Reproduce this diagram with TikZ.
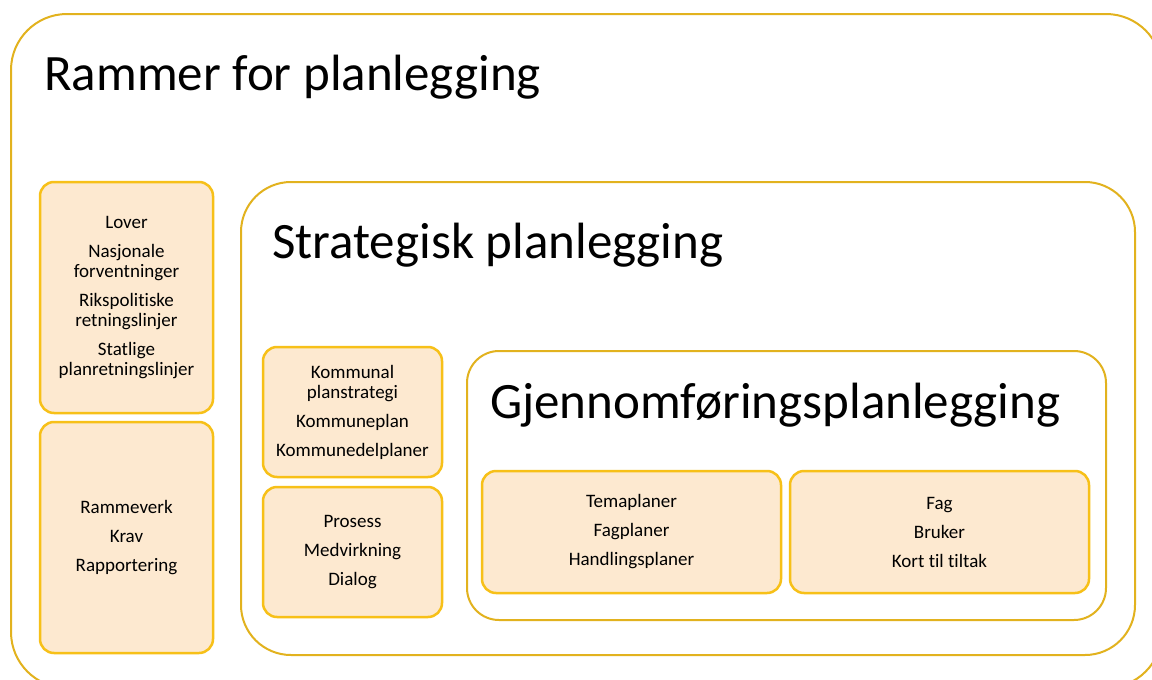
\documentclass[tikz,border=0pt]{standalone}
\usepackage{fontspec}
\setmainfont[Ligatures=NoCommon]{Carlito}

\definecolor{framegold}{RGB}{226,178,30}
\definecolor{boxline}{RGB}{247,192,24}
\definecolor{boxfill}{RGB}{253,233,208}

\tikzset{
  frame/.style={rectangle, draw=framegold, line width=2pt, fill=white},
  infobox/.style={rectangle, rounded corners=14pt, draw=boxline, line width=2.5pt, fill=boxfill,
    align=center, font=\fontsize{19}{20}\selectfont, inner sep=0pt},
  headline/.style={anchor=base west, inner sep=0pt, font=\fontsize{51}{60}\selectfont}
}

\begin{document}
\begin{tikzpicture}[x=1pt, y=-1pt]
        \useasboundingbox (0,0) rectangle (1152,680);
        \clip (0,0) rectangle (1152,680);

        % outer frame
        \node[frame, rounded corners=56pt, minimum width=1151pt, minimum height=674pt] (rammer) at(586.5,351){};
        \node[headline] (rammer-title) at(44,90){Rammer for planlegging};

        \node[infobox, minimum width=173pt, minimum height=231pt] (lover) at(126.5,297.5){Lover\\[9pt]Nasjonale\\forventninger\\[9pt]Rikspolitiske\\retningslinjer\\[9pt]Statlige\\planretningslinjer};
        \node[infobox, minimum width=173pt, minimum height=231pt] (rammeverk) at(126.5,537.5){Rammeverk\\[9pt]Krav\\[9pt]Rapportering};

        % strategisk
        \node[frame, rounded corners=50pt, minimum width=894pt, minimum height=473pt] (strategisk) at(688,418.5){};
        \node[headline] (strategisk-title) at(272,258){Strategisk planlegging};

        \node[infobox, minimum width=179pt, minimum height=130pt] (kommunal) at(352.5,412){Kommunal\\planstrategi\\[9pt]Kommuneplan\\[9pt]Kommunedelplaner};
        \node[infobox, minimum width=179pt, minimum height=130pt] (prosess) at(352.5,552){Prosess\\[9pt]Medvirkning\\[9pt]Dialog};

        % gjennomforing
        \node[frame, rounded corners=32pt, minimum width=639pt, minimum height=269pt] (gjennom) at(786.5,485.5){};
        \node[headline] (gjennom-title) at(490,418){Gjennomføringsplanlegging};

        \node[infobox, minimum width=299pt, minimum height=122pt] (tema) at(631.5,532){Temaplaner\\[9pt]Fagplaner\\[9pt]Handlingsplaner};
        \node[infobox, minimum width=299pt, minimum height=122pt] (fag) at(939.5,532){Fag\\[9pt]Bruker\\[9pt]Kort til tiltak};

      \end{tikzpicture}
\end{document}
